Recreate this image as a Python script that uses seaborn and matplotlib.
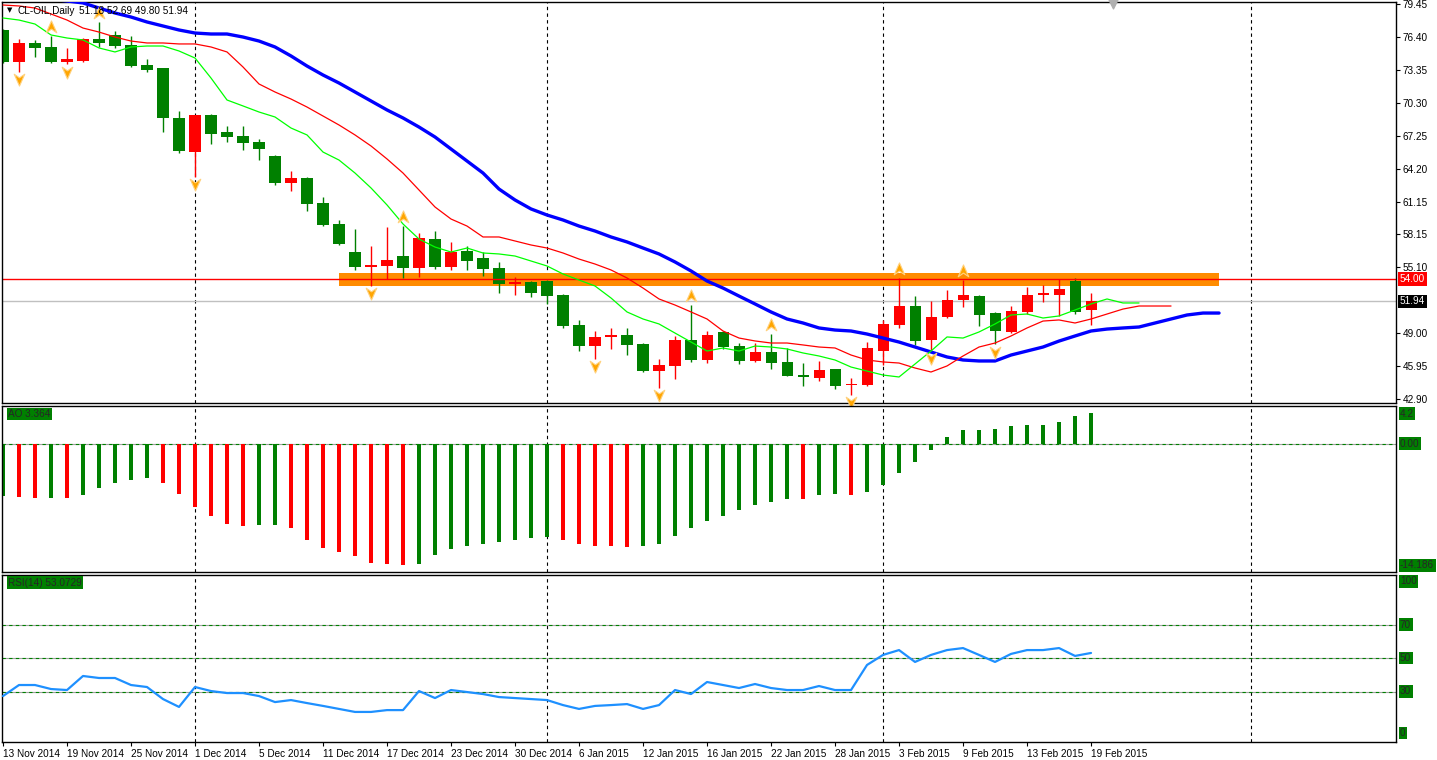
import numpy as np
import pandas as pd
import matplotlib
matplotlib.use('Agg')
import matplotlib.pyplot as plt
import seaborn as sns
from matplotlib.path import Path
from matplotlib.transforms import blended_transform_factory

sns.set_style('white')
plt.rcParams['font.family'] = ['Liberation Sans', 'DejaVu Sans']

# ---------------- data ----------------
date_idx = [0, 4, 8, 12, 16, 20, 24, 28, 32, 36, 40, 44, 48, 52, 56, 60, 64, 68]
date_labels = ['13 Nov 2014', '19 Nov 2014', '25 Nov 2014', '1 Dec 2014', '5 Dec 2014',
               '11 Dec 2014', '17 Dec 2014', '23 Dec 2014', '30 Dec 2014', '6 Jan 2015',
               '12 Jan 2015', '16 Jan 2015', '22 Jan 2015', '28 Jan 2015', '3 Feb 2015',
               '9 Feb 2015', '13 Feb 2015', '19 Feb 2015']
separator_idx = [12, 34, 55, 78]

opens = [77.02, 74.09, 75.82, 75.45, 74.06, 74.15, 76.19, 76.56, 75.63, 73.78,
         73.51, 68.89, 65.77, 69.16, 67.59, 67.22, 66.67, 65.40, 62.91, 63.34,
         61.03, 59.09, 56.50, 55.14, 55.24, 56.13, 55.05, 57.70, 55.14, 56.60,
         55.95, 55.02, 53.57, 53.76, 53.85, 52.53, 49.75, 47.81, 48.65, 48.83,
         48.00, 45.50, 45.96, 48.37, 46.52, 49.11, 47.81, 46.43, 47.26, 46.34,
         45.13, 44.86, 45.69, 44.21, 44.21, 47.35, 49.75, 51.51, 48.37, 50.50,
         52.07, 52.43, 50.87, 49.11, 50.96, 52.53, 52.53, 53.82, 51.18]
highs = [77.10, 76.16, 76.10, 76.46, 75.33, 76.25, 77.76, 76.93, 76.46, 74.34,
         73.55, 69.53, 69.20, 69.23, 68.15, 68.15, 66.92, 65.45, 63.99, 63.40,
         61.56, 59.46, 58.63, 57.06, 58.81, 58.90, 58.26, 58.44, 57.43, 57.06,
         56.50, 55.58, 54.22, 53.85, 53.90, 52.60, 50.22, 49.20, 49.48, 49.48,
         48.05, 46.61, 48.74, 51.60, 49.20, 49.20, 48.09, 48.09, 48.93, 47.63,
         46.24, 46.43, 45.72, 44.86, 48.18, 50.22, 54.09, 52.43, 51.97, 52.99,
         53.91, 52.53, 50.96, 51.51, 53.27, 53.45, 54.00, 54.09, 52.69]
lows = [74.00, 73.17, 74.55, 74.00, 73.88, 74.10, 75.48, 75.38, 73.63, 73.17,
        67.62, 65.68, 63.46, 66.48, 66.70, 65.96, 65.03, 62.67, 62.14, 60.29,
        58.90, 57.15, 54.84, 53.39, 54.03, 54.13, 54.22, 54.96, 54.87, 54.87,
        54.31, 52.74, 52.56, 52.37, 51.72, 49.48, 47.35, 46.64, 47.54, 46.98,
        45.45, 43.96, 44.76, 46.34, 46.24, 47.54, 46.15, 46.34, 45.69, 45.00,
        44.12, 44.58, 43.84, 43.33, 44.12, 46.05, 49.48, 47.91, 47.44, 50.40,
        51.42, 49.66, 48.00, 49.01, 50.77, 51.88, 50.59, 50.77, 49.80]
closes = [74.06, 75.85, 75.38, 74.06, 74.34, 76.19, 75.85, 75.54, 73.72, 73.35,
          68.91, 65.84, 69.16, 67.44, 67.16, 66.60, 66.05, 62.91, 63.34, 60.97,
          59.00, 57.24, 55.14, 55.30, 55.76, 55.05, 57.80, 55.14, 56.50, 55.70,
          54.96, 53.57, 53.76, 52.74, 52.46, 49.66, 47.81, 48.65, 48.83, 47.91,
          45.50, 46.05, 48.37, 46.52, 48.83, 47.72, 46.43, 47.26, 46.24, 45.05,
          44.95, 45.60, 44.12, 44.30, 47.63, 49.85, 51.51, 48.30, 50.50, 52.07,
          52.53, 50.68, 49.20, 51.05, 52.53, 52.71, 53.08, 50.96, 51.94]

# Alligator lines (already shifted forward)
lips = [78.13, 77.94, 77.57, 76.56, 76.28, 76.10, 75.36, 74.99, 75.45, 75.54,
        75.54, 75.08, 74.43, 72.58, 70.55, 70.00, 69.44, 68.98, 67.96, 67.32,
        65.74, 65.00, 63.80, 62.42, 60.85, 59.09, 57.70, 56.96, 56.50, 56.87,
        56.41, 56.32, 56.13, 55.67, 55.21, 54.47, 53.91, 53.36, 52.25, 50.96,
        50.31, 49.85, 49.01, 48.18, 47.35, 47.63, 47.35, 47.81, 47.72, 47.54,
        47.17, 46.89, 46.52, 45.87, 45.50, 45.13, 44.95, 46.15, 47.35, 48.65,
        48.55, 49.11, 49.85, 50.68, 50.77, 50.40, 50.59, 51.14, 51.70, 52.16,
        51.79, 51.79]
teeth = [79.33, 79.24, 79.05, 78.50, 77.94, 77.20, 76.83, 76.37, 76.00, 75.82,
         75.82, 75.73, 75.73, 75.45, 74.99, 73.60, 72.03, 71.29, 70.64, 69.90,
         69.07, 68.24, 67.32, 66.30, 65.10, 63.80, 62.23, 60.66, 59.55, 58.90,
         57.89, 57.89, 57.52, 57.15, 56.87, 56.41, 55.85, 55.39, 54.84, 54.10,
         53.17, 52.16, 51.60, 50.96, 50.31, 49.20, 48.55, 48.28, 48.09, 48.09,
         47.91, 47.72, 47.63, 46.98, 46.52, 46.34, 46.24, 45.78, 45.41, 45.97,
         46.89, 47.72, 48.09, 48.74, 49.48, 50.12, 50.22, 49.94, 50.31, 50.77,
         51.23, 51.51, 51.51, 51.51]
jaw = [80.72, 80.44, 80.16, 79.88, 79.70, 79.52, 79.05, 78.59, 78.22, 77.76,
       77.39, 77.02, 76.74, 76.65, 76.65, 76.37, 76.00, 75.45, 74.62, 73.69,
       72.86, 72.12, 71.29, 70.46, 69.63, 68.89, 68.05, 67.13, 66.02, 64.91,
       63.80, 62.32, 61.31, 60.48, 59.92, 59.46, 58.90, 58.44, 57.89, 57.43,
       56.87, 56.32, 55.58, 54.75, 53.82, 53.17, 52.43, 51.70, 50.96, 50.31,
       49.94, 49.48, 49.29, 49.20, 48.92, 48.55, 48.18, 47.72, 47.26, 46.80,
       46.52, 46.43, 46.43, 46.98, 47.35, 47.72, 48.27, 48.74, 49.20, 49.38,
       49.48, 49.57, 49.94, 50.31, 50.68, 50.86, 50.86]

fractal_up = [3, 6, 25, 43, 48, 56, 60]
fractal_down = [1, 4, 12, 23, 37, 41, 53, 58, 62]

ao_values = [-5.80, -5.91, -6.05, -6.00, -6.03, -5.69, -4.91, -4.35, -4.01, -3.79,
             -4.35, -5.57, -7.02, -8.03, -8.92, -9.14, -9.03, -9.00, -9.36, -10.7,
             -11.6, -12.0, -12.5, -13.2, -13.4, -13.5, -13.3, -12.4, -11.7, -11.4,
             -11.1, -10.9, -10.7, -10.5, -10.4, -10.7, -11.1, -11.3, -11.4, -11.5,
             -11.3, -11.1, -10.2, -9.3, -8.6, -8.0, -7.4, -6.8, -6.5, -6.1,
             -6.15, -5.7, -5.6, -5.65, -5.3, -4.6, -3.2, -2.0, -0.7, 0.75,
             1.53, 1.55, 1.64, 1.97, 2.08, 2.10, 2.42, 3.09, 3.364]
ao_rising = [1, 0, 0, 1, 0, 1, 1, 1, 1, 1,
             0, 0, 0, 0, 0, 0, 1, 1, 0, 0,
             0, 0, 0, 0, 0, 0, 1, 1, 1, 1,
             1, 1, 1, 1, 1, 0, 0, 0, 0, 0,
             1, 1, 1, 1, 1, 1, 1, 1, 1, 1,
             0, 1, 1, 0, 1, 1, 1, 1, 1, 1,
             1, 1, 1, 1, 1, 1, 1, 1, 1]

rsi = [27.3, 33.9, 33.9, 31.5, 30.9, 39.3, 38.1, 38.1, 33.9, 32.7,
       25.5, 20.8, 32.7, 30.3, 29.1, 29.1, 27.3, 23.7, 24.9, 23.1,
       21.4, 19.6, 17.8, 17.8, 18.9, 18.9, 30.3, 26.1, 30.9, 29.7,
       28.5, 26.7, 26.1, 25.5, 24.9, 21.9, 19.6, 21.4, 21.9, 22.5,
       19.6, 21.9, 30.9, 28.5, 35.7, 33.9, 32.1, 34.5, 32.1, 30.9,
       30.9, 33.3, 30.9, 30.9, 45.9, 51.9, 54.8, 47.7, 51.9, 54.8,
       56.0, 51.9, 47.7, 52.5, 54.8, 54.8, 56.0, 51.3, 53.07]

price_ticks = [79.45, 76.40, 73.35, 70.30, 67.25, 64.20, 61.15, 58.15, 55.10, 49.00, 45.95, 42.90]
level_line = 54.00
zone_low, zone_high = 53.39, 54.53
zone_start, zone_end = 21.0, 76.0
bid = 51.94
symbol_text = 'CL-OIL,Daily'
ohlc_text = '51.18 52.69 49.80 51.94'
ao_label = 'AO 3.364'
rsi_label = 'RSI(14) 53.0729'
rsi_levels = [70, 50, 30]

# ---------------- layout ----------------
W, H = 1437, 760
fig = plt.figure(figsize=(W / 100, H / 100), dpi=100)
fig.patch.set_facecolor('white')
FS = 7.2


def rect(l, t, r, b):
    return [l / W, 1 - b / H, (r - l) / W, (b - t) / H]


ax = fig.add_axes(rect(2, 1.7, 1396, 403.3))
ax_ao = fig.add_axes(rect(2, 405.7, 1396, 572.3))
ax_rsi = fig.add_axes(rect(2, 574.5, 1396, 741.7))

XMIN, XMAX = -0.0625, 87.06
GREEN = '#008000'
RED = '#FF0000'

for a in (ax, ax_ao, ax_rsi):
    a.set_xlim(XMIN, XMAX)
    a.set_facecolor('white')
    for s in a.spines.values():
        s.set_color('black')
        s.set_linewidth(1.0)
    for xi in separator_idx:
        a.axvline(xi, color='black', lw=0.8, ls=(0, (3, 3)), zorder=1)

# ---------------- main price chart ----------------
ax.set_ylim(42.518, 79.635)
ax.add_patch(plt.Rectangle((zone_start, zone_low), zone_end - zone_start, zone_high - zone_low,
                           facecolor='#FF8C00', edgecolor='none', zorder=1.5))
ax.axhline(bid, color='#C0C0C0', lw=1.0, zorder=1.6)

n = len(opens)
xs = np.arange(n)
o = np.array(opens); c = np.array(closes); hi = np.array(highs); lo = np.array(lows)
cols = [RED if cc >= oo else GREEN for oo, cc in zip(o, c)]
ax.vlines(xs, lo, hi, colors=cols, lw=1.0, zorder=2)
body_bottom = np.minimum(o, c)
body_h = np.maximum(np.abs(c - o), 0.12)
ax.bar(xs, body_h, bottom=body_bottom, width=0.69, color=cols, edgecolor='none', zorder=2.1)

ax.axhline(level_line, color=RED, lw=1.0, zorder=2.5)

sns.lineplot(x=np.arange(len(jaw)), y=jaw, ax=ax, color='#0000FF', lw=2.4, zorder=3)
sns.lineplot(x=np.arange(len(teeth)), y=teeth, ax=ax, color='#FF0000', lw=0.9, zorder=3.1)
sns.lineplot(x=np.arange(len(lips)), y=lips, ax=ax, color='#00FF00', lw=0.9, zorder=3.2)

up_path = Path([(0, 1), (0.8, -0.8), (0, -0.25), (-0.8, -0.8), (0, 1)],
               [Path.MOVETO, Path.LINETO, Path.LINETO, Path.LINETO, Path.CLOSEPOLY])
down_path = Path([(0, -1), (0.8, 0.8), (0, 0.25), (-0.8, 0.8), (0, -1)],
                 [Path.MOVETO, Path.LINETO, Path.LINETO, Path.LINETO, Path.CLOSEPOLY])
ax.scatter(fractal_up, [highs[i] + 0.85 for i in fractal_up], marker=up_path, s=90,
           facecolor='#FFA500', edgecolor='#FFD27F', linewidth=0.8, zorder=4, clip_on=False)
ax.scatter(fractal_down, [lows[i] - 0.7 for i in fractal_down], marker=down_path, s=90,
           facecolor='#FFA500', edgecolor='#FFD27F', linewidth=0.8, zorder=4, clip_on=False)

# chart shift marker
ax.scatter([69.4], [79.45], marker='v', s=40, color='#B0B0B0', zorder=5, clip_on=False)

ax.yaxis.tick_right()
ax.set_yticks(price_ticks)
ax.set_yticklabels([f'{v:.2f}' for v in price_ticks])
ax.tick_params(axis='y', direction='out', length=3, width=0.8, pad=1.5, labelsize=FS, colors='black')
ax.set_xticks([])
ax.set_xlabel(''); ax.set_ylabel('')

trm = blended_transform_factory(ax.transAxes, ax.transData)
ax.text(1.0029, level_line, '54.00', transform=trm, ha='left', va='center', fontsize=FS,
        color='white', bbox=dict(facecolor=RED, edgecolor='none', pad=1.3), clip_on=False, zorder=6)
ax.text(1.0029, bid, f'{bid:.2f}', transform=trm, ha='left', va='center', fontsize=FS,
        color='white', bbox=dict(facecolor='black', edgecolor='none', pad=1.3), clip_on=False, zorder=6)

# header
fig.text(7 / W, 1 - 10.5 / H, '\u25BC', fontsize=5, ha='left', va='center', color='black',
         family=['DejaVu Sans'])
fig.text(18 / W, 1 - 10.5 / H, symbol_text, fontsize=FS, ha='left', va='center', color='black')
fig.text(79 / W, 1 - 10.5 / H, ohlc_text, fontsize=FS, ha='left', va='center', color='black')

# ---------------- AO ----------------
ax_ao.set_ylim(-14.27, 4.23)
ao_cols = [GREEN if r else RED for r in ao_rising]
ax_ao.bar(np.arange(len(ao_values)), ao_values, width=0.21, color=ao_cols, edgecolor='none', zorder=2)
ax_ao.axhline(0, color='#A0A0A0', lw=0.8, zorder=1.8)
ax_ao.axhline(0, color=GREEN, lw=0.8, ls=(0, (3, 3)), zorder=1.9)
ax_ao.set_xticks([]); ax_ao.set_yticks([])
ax_ao.set_xlabel(''); ax_ao.set_ylabel('')

box = dict(facecolor=GREEN, edgecolor='none', pad=1.0)
fig.text(1400 / W, 1 - 413.5 / H, '4.2', fontsize=FS, ha='left', va='center', bbox=box)
fig.text(1400 / W, 1 - 443.7 / H, '0.00', fontsize=FS, ha='left', va='center', bbox=box)
fig.text(1400 / W, 1 - 565.5 / H, '-14.186', fontsize=FS, ha='left', va='center', bbox=box)
fig.text(8 / W, 1 - 414 / H, ao_label, fontsize=FS, ha='left', va='center', bbox=box)

# ---------------- RSI ----------------
ax_rsi.set_ylim(0, 100)
for lv in rsi_levels:
    ax_rsi.axhline(lv, color='#A0A0A0', lw=0.8, zorder=1.8)
    ax_rsi.axhline(lv, color=GREEN, lw=0.8, ls=(0, (3, 3)), zorder=1.9)
sns.lineplot(x=np.arange(len(rsi)), y=rsi, ax=ax_rsi, color='#1E90FF', lw=1.6, zorder=3)
ax_rsi.set_yticks([])
ax_rsi.set_ylabel(''); ax_rsi.set_xlabel('')
ax_rsi.set_xticks(date_idx)
ax_rsi.set_xticklabels(date_labels, ha='left')
ax_rsi.tick_params(axis='x', direction='out', length=3, width=0.8, pad=2, labelsize=FS, colors='black',
                   bottom=True)

for val, yc in [('100', 581.5), ('70', 624.7), ('50', 658.0), ('30', 691.2), ('0', 733)]:
    fig.text(1400 / W, 1 - yc / H, val, fontsize=FS, ha='left', va='center', bbox=box)
fig.text(8 / W, 1 - 582.5 / H, rsi_label, fontsize=FS, ha='left', va='center', bbox=box)

fig.savefig('out.png', dpi=100, facecolor='white')
